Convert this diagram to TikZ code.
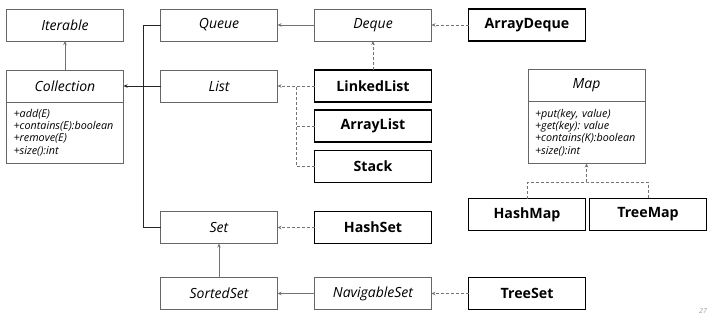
\documentclass[tikz,border=0pt]{standalone}
\usepackage{fontspec}
\setmainfont{Open Sans}
\usepackage{tikz}
\usetikzlibrary{positioning,arrows.meta}
\frenchspacing
\tikzset{
  ibox/.style  ={rectangle, draw=black!60, fill=white, line width=0.8pt,
                 minimum width=117pt, minimum height=32pt, inner sep=2pt, outer sep=0pt,
                 align=center, font=\fontsize{14}{16}\selectfont\itshape, text=black},
  cbox/.style  ={ibox, draw=black, line width=1.8pt, text=black,
                 font=\fontsize{14.2}{16}\selectfont\bfseries},
  opsbox/.style={ibox, minimum height=61pt, text width=103pt, align=left,
                 font=\fontsize{10.8}{12.4}\selectfont\itshape},
  gen/.style   ={-{Stealth[length=4pt,width=3.5pt]}, draw=black!55, line width=0.9pt},
  trunk/.style ={draw=black!85, line width=0.9pt},
  impl/.style  ={-{Stealth[length=4pt,width=3.5pt]}, draw=black!55, line width=0.9pt,
                 dash pattern=on 3pt off 2pt},
  implbus/.style={draw=black!55, line width=0.9pt, dash pattern=on 3pt off 2pt},
}

\begin{document}
\begin{tikzpicture}[x=1pt, y=-1pt, node distance=37pt]
  \useasboundingbox (0,0) rectangle (714,324);
  % collection hierarchy
  \node[ibox] (iter) at (65,25) {Iterable};
  \node[ibox, right=of iter] (queue) {Queue};
  \node[ibox, right=of queue] (deque) {Deque};
  \node[cbox, right=of deque] (adeque) {ArrayDeque};
  \node[ibox] (coll) at (65,86) {Collection};
  \node[opsbox, below=0pt of coll] (collops)
        {+add(E)\\+contains(E):boolean\\+remove(E)\\+size():int};
  \node[ibox] (list) at (219,86) {List};
  \node[cbox, right=of list] (llist) {LinkedList};
  \node[cbox] (alist) at (373,126) {ArrayList};
  \node[cbox] (stack) at (373,166.5) {Stack};
  \node[ibox] (set) at (219,227.5) {Set};
  \node[cbox, right=of set] (hset) {HashSet};
  \node[ibox] (sset) at (219,293.5) {SortedSet};
  \node[ibox, right=of sset] (nset) {NavigableSet};
  \node[cbox, right=of nset] (tset) {TreeSet};
  % map hierarchy
  \node[ibox] (map) at (586.5,85.5) {Map};
  \node[opsbox, minimum height=62pt, below=0pt of map] (mapops)
        {+put(key, value)\\+get(key): value\\+contains(K):boolean\\+size():int};
  \node[cbox] (hmap) at (527,214.5) {HashMap};
  \node[cbox, right=4pt of hmap] (tmap) {TreeMap};
  \node[font=\fontsize{7}{8}\selectfont\itshape, text=black!40] (pgno) at (703,311) {27};

  \coordinate (junc) at (143,86);
  \coordinate (lbus) at (296,86);
  \coordinate (mbus) at (586.5,182);
  \draw[gen] (coll.north) -- (iter.south);
  \draw[trunk] (queue.west) -| (junc);
  \draw[trunk] (set.west) -| (junc);
  \draw[trunk, -{Stealth[length=4pt,width=3.5pt]}] (list.west) -- (coll.east);
  \draw[gen] (deque.west) -- (queue.east);
  \draw[impl] (adeque.west) -- (deque.east);
  \draw[impl] (llist.north) -- (deque.south);
  \draw[implbus] (alist.west) -| (lbus);
  \draw[implbus] (stack.west) -| (lbus);
  \draw[impl] (llist.west) -- (list.east);
  \draw[impl] (hset.west) -- (set.east);
  \draw[gen] (sset.north) -- (set.south);
  \draw[gen] (nset.west) -- (sset.east);
  \draw[impl] (tset.west) -- (nset.east);
  \draw[implbus] (hmap.north) |- (mbus) -| (tmap.north);
  \draw[impl] (mbus) -- (mapops.south);
\end{tikzpicture}
\end{document}
